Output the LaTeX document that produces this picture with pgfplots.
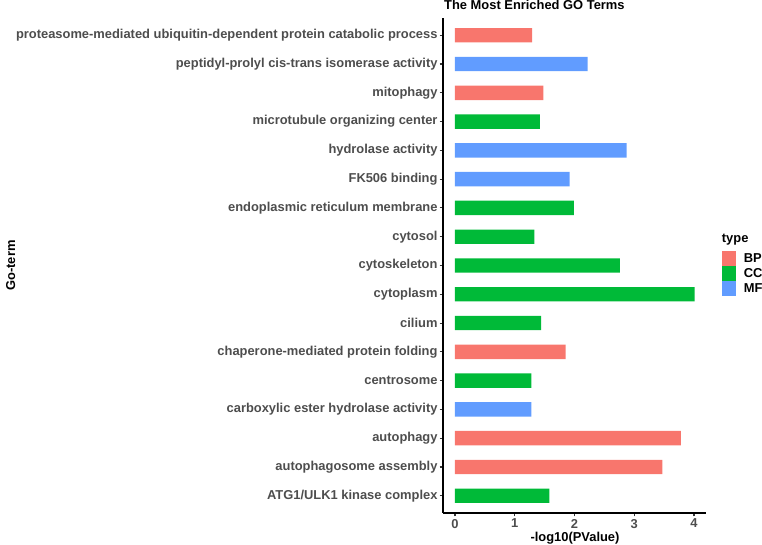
\documentclass[border=0pt]{standalone}
\usepackage{fontspec}
\setmainfont{Liberation Sans}
\usepackage{pgfplots}
\pgfplotsset{compat=1.18}
\definecolor{bpcol}{HTML}{F8766D}
\definecolor{cccol}{HTML}{00BA38}
\definecolor{mfcol}{HTML}{619CFF}
\definecolor{gray30}{HTML}{4D4D4D}
\definecolor{gray20}{HTML}{333333}
\newcommand\lab{\fontsize{12.9pt}{15pt}\selectfont\bfseries}

\begin{document}
\begin{tikzpicture}
\useasboundingbox (0pt,0pt) rectangle (762pt,545pt);
\begin{axis}[
  at={(443pt,32pt)}, anchor=south west,
  scale only axis, width=263pt, height=495pt,
  xbar, bar width=0.5, bar shift=0pt,
  xmin=-0.2, xmax=4.2, ymin=0.4, ymax=17.6,
  axis x line=bottom, axis y line=left,
  axis line style={-, line width=1.1pt, black},
  tick align=outside, major tick length=3.3pt,
  tick style={gray20, line width=1.1pt},
  xtick={0,1,2,3,4}, ytick={1,...,17},
  yticklabels={ATG1/ULK1 kinase complex, autophagosome assembly, autophagy,
    carboxylic ester hydrolase activity, centrosome, chaperone-mediated protein folding,
    cilium, cytoplasm, cytoskeleton, cytosol, endoplasmic reticulum membrane,
    FK506 binding, hydrolase activity, microtubule organizing center, mitophagy,
    peptidyl-prolyl cis-trans isomerase activity,
    proteasome-mediated ubiquitin-dependent protein catabolic process},
  /pgf/number format/assume math mode=true,
  ticklabel style={font=\lab, text=gray30},
  yticklabel style={inner sep=0pt, xshift=-2pt},
  xticklabel style={inner sep=0pt, yshift=-2.5pt},
  clip=false,
  legend style={at={(rel axis cs:1.0597,0.5299)}, anchor=north west,
    draw=none, fill=none, inner sep=0pt, row sep=0pt, column sep=7.7pt,
    font=\lab, nodes={inner sep=0pt, anchor=west, minimum height=15pt}},
  legend image code/.code={\fill[#1] (0pt,-7pt) rectangle (14.3pt,7pt);
    \path (0pt,-7.5pt) rectangle (14.3pt,7.5pt);},
]
\addplot[fill=bpcol, draw=none] coordinates {
  (1.29,17) (1.48,15) (1.85,6) (3.78,3) (3.47,2)};
\addlegendentry{BP}
\addplot[fill=cccol, draw=none] coordinates {
  (1.42,14) (1.99,11) (1.33,10) (2.76,9) (4.01,8) (1.44,7) (1.28,5) (1.58,1)};
\addlegendentry{CC}
\addplot[fill=mfcol, draw=none] coordinates {
  (2.22,16) (2.87,13) (1.92,12) (1.28,4)};
\addlegendentry{MF}
\node[anchor=base west, font=\lab, inner sep=0pt] at (rel axis cs:1.0597,0.5455) {type};
\end{axis}
\node[anchor=base west, font=\lab, inner sep=0pt] at (444pt,535.5pt) {The Most Enriched GO Terms};
\node[anchor=base, font=\lab, inner sep=0pt] at (575pt,3.8pt) {-log10(PValue)};
\node[anchor=base, font=\lab, inner sep=0pt, rotate=90] at (15pt,279.5pt) {Go-term};
\end{tikzpicture}
\end{document}
